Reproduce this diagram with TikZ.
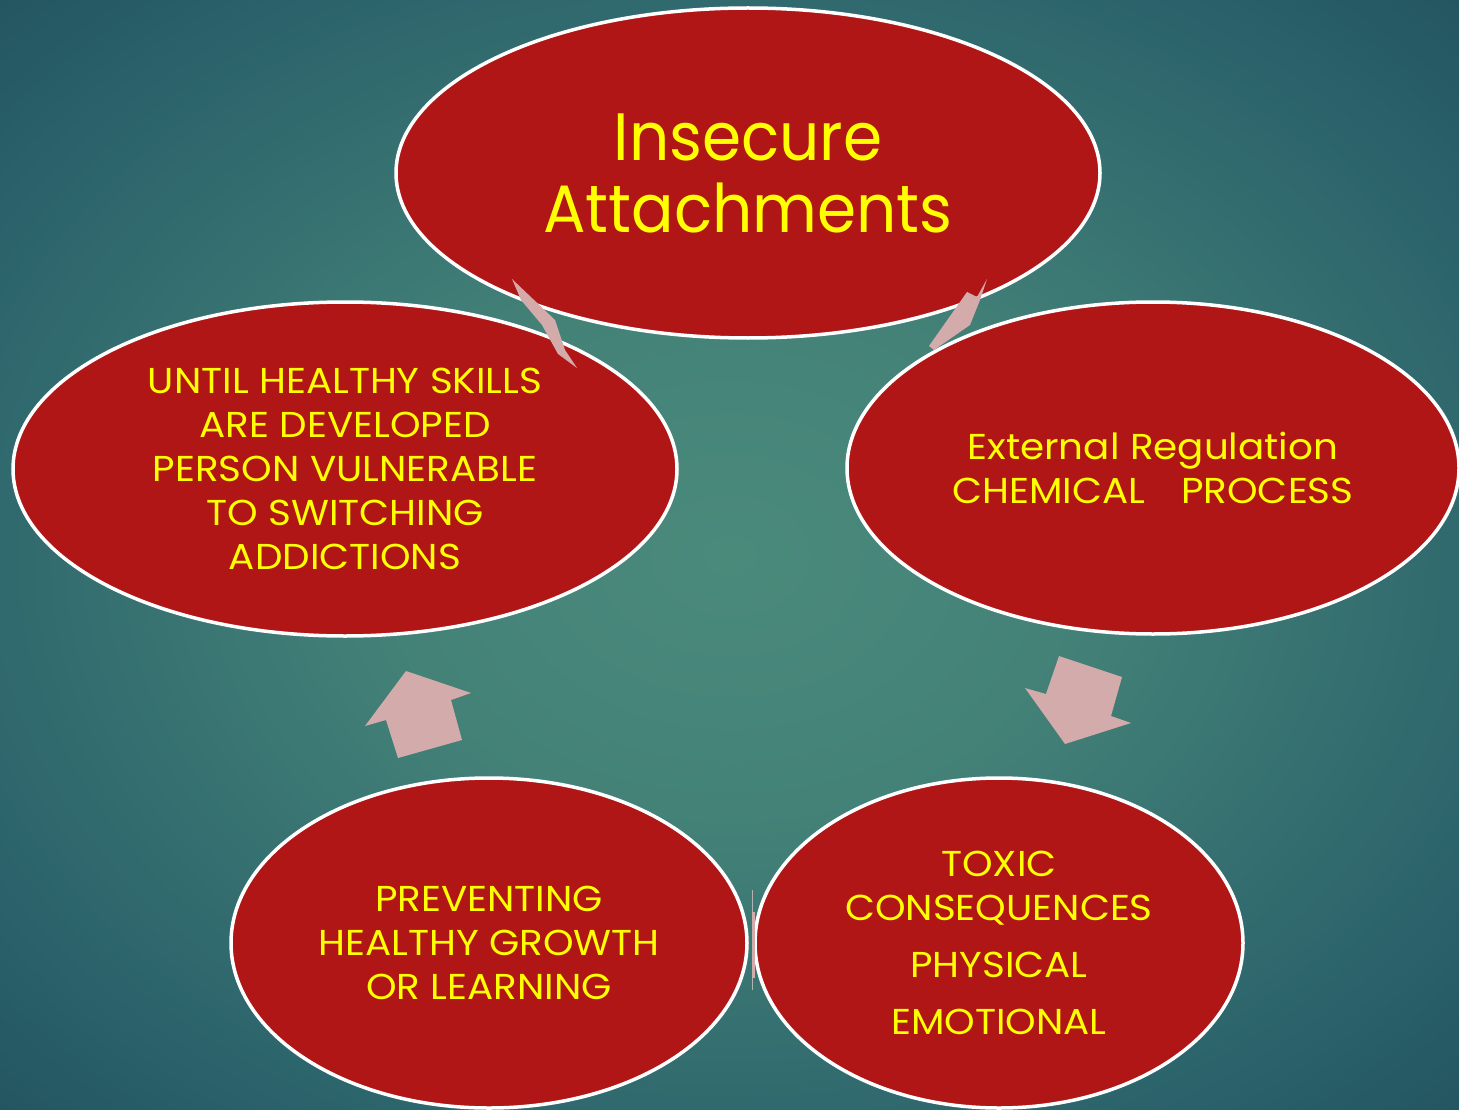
\documentclass[tikz,border=0pt]{standalone}
\usepackage{fontspec}
\setmainfont{Poppins}
\newfontfamily\bodyfont[FakeStretch=1.08]{Poppins}
\newfontfamily\titlefont[FakeStretch=0.94]{Poppins}
\usetikzlibrary{shapes.geometric}
\definecolor{bgin}{HTML}{4A8A7B}
\definecolor{bgmid}{HTML}{29606A}
\definecolor{bgout}{HTML}{173E4B}
\definecolor{redfill}{HTML}{B01616}
\definecolor{txty}{HTML}{FFFF00}
\definecolor{arrowpink}{HTML}{D4ABAB}
\pgfdeclareradialshading{bgshade}{\pgfpoint{0bp}{0bp}}{color(0bp)=(bgin);color(12bp)=(bgin!80!bgmid);color(30bp)=(bgmid);color(48bp)=(bgout);color(72bp)=(bgout)}
\tikzset{
  bubble/.style={ellipse, draw=white, line width=3.5pt, fill=redfill, text=txty, align=center, inner sep=0pt},
  body/.style={font=\bodyfont\fontsize{36}{44}\selectfont},
  arrowshape/.style={fill=arrowpink, draw=none}
}
\begin{document}
\begin{tikzpicture}[x=1pt,y=-1pt]
\useasboundingbox (0,0) rectangle (1459,1110);
\shade[shading=bgshade] (0,0) rectangle (1459,1110);
\begin{scope}
\clip (0,0) rectangle (1459,1110);
\node[bubble, minimum width=704pt, minimum height=330pt, font=\titlefont\fontsize{67}{72}\selectfont] (top) at (748,173) {Insecure\\Attachments};
\node[bubble, body, minimum width=612pt, minimum height=332pt] (right) at (1153,468) {External Regulation\\CHEMICAL\hspace{36pt}PROCESS};
\node[bubble, body, minimum width=488pt, minimum height=330pt] (botr) at (999,943) {TOXIC\\CONSEQUENCES\\[13pt]PHYSICAL\\[13pt]EMOTIONAL};
\node[bubble, body, minimum width=516pt, minimum height=330pt] (botl) at (489,943) {PREVENTING\\HEALTHY GROWTH\\OR LEARNING};
\node[bubble, body, minimum width=664pt, minimum height=334pt] (left) at (345,469) {UNTIL HEALTHY SKILLS\\ARE DEVELOPED\\PERSON VULNERABLE\\TO SWITCHING\\ADDICTIONS};
\end{scope}
% arrows
\fill[arrowshape] (512,279) -- (533,299) -- (555,320) -- (565,350) -- (577,368) -- (558,354) -- (542,325) -- (521,300) -- cycle;
\fill[arrowshape] (987,279) -- (977,297) -- (967,292) -- (929,346) -- (934,350) -- (970,325) -- (980,300) -- cycle;
\fill[arrowshape] (1059,656) -- (1122,677) -- (1111,716) -- (1131,723) -- (1065,744) -- (1025,688) -- (1046,694) -- cycle;
\fill[arrowshape] (406,671) -- (471,693) -- (451,700) -- (462,740) -- (398,758) -- (386,720) -- (365,726) -- cycle;
\draw[gray!60, line width=0.6pt] (752.5,890) -- (752.5,990);
\fill[arrowshape] (751.5,912) rectangle (754.5,978);
\end{tikzpicture}
\end{document}
